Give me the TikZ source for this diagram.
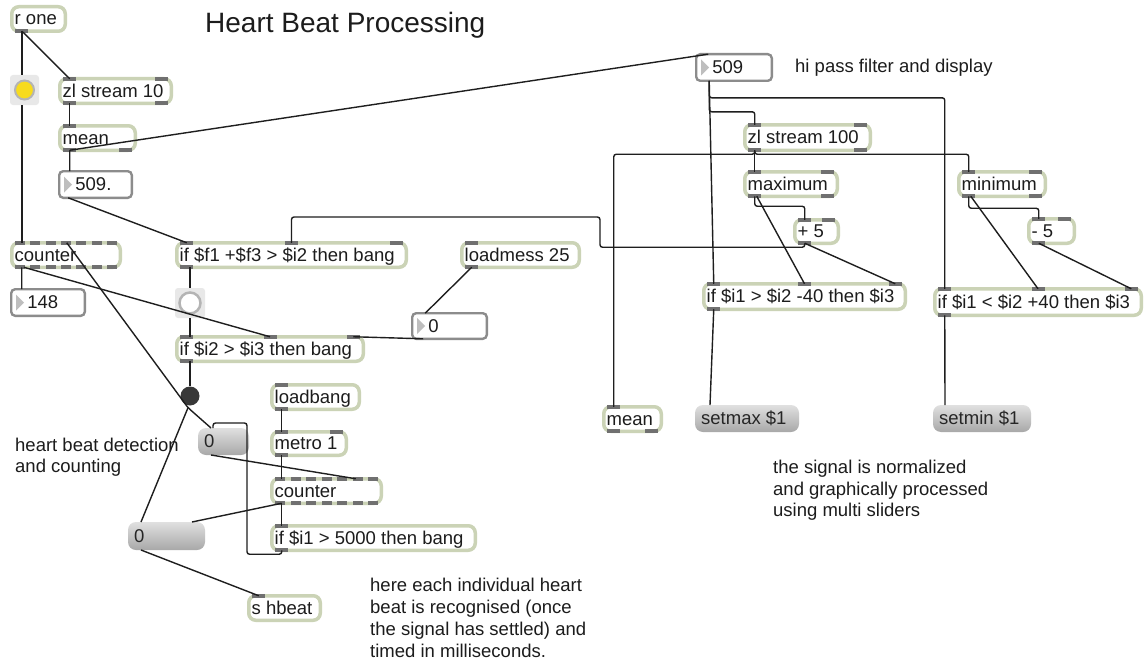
\documentclass[tikz,border=0pt]{standalone}
\usepackage{fontspec}
\setmainfont{Liberation Sans}
\usetikzlibrary{calc}
\definecolor{objb}{RGB}{203,211,182}
\definecolor{portc}{RGB}{112,112,112}
\definecolor{numb}{RGB}{140,140,140}
\definecolor{wirec}{RGB}{30,30,30}
\definecolor{txtc}{RGB}{28,28,28}
\definecolor{btnbg}{RGB}{232,232,232}
\definecolor{yel}{RGB}{247,219,30}
\definecolor{ringc}{RGB}{180,180,180}
\definecolor{msgtop}{RGB}{224,224,224}
\definecolor{msgbot}{RGB}{168,168,168}
\definecolor{tric}{RGB}{190,190,190}
\definecolor{blk}{RGB}{56,56,56}
\tikzset{
 objbox/.style={draw=objb, line width=3.5pt, fill=white, rounded corners=7pt, inner sep=0pt, outer sep=0pt},
 numbox/.style={draw=numb, line width=2.4pt, fill=white, rounded corners=4pt, inner sep=0pt, outer sep=0pt},
 msgbox/.style={top color=msgtop, bottom color=msgbot, rounded corners=8pt, inner sep=0pt, outer sep=0pt, draw=none},
 btnsq/.style={fill=btnbg, rounded corners=3pt, inner sep=0pt, outer sep=0pt, draw=none},
 txt/.style={font=\fontsize{18.5}{21.5}\selectfont, text=txtc, inner sep=0pt},
 cmt/.style={txt, anchor=base west},
 titletxt/.style={font=\fontsize{28}{32}\selectfont, text=txtc, inner sep=0pt, anchor=base west},
 port/.style={fill=portc},
 wire/.style={draw=wirec, line width=1.4pt, rounded corners=2.5pt},
}
% x, ytop, w, n, markwidth
\newcommand\portrow[5]{%
 \ifnum#4>0
  \foreach \k in {1,...,#4}{%
   \ifnum#4=1 \pgfmathsetmacro\mypx{#1+5}\else\pgfmathsetmacro\mypx{#1+5+(\k-1)*(#3-10-#5)/(#4-1)}\fi
   \fill[port] (\mypx,#2) rectangle ++(#5,4);}
 \fi}
% name,x,y,w,h,nin,nout,markwidth,text
\newcommand\mobj[9]{%
 \pgfmathsetmacro\myw{#4-3.5}\pgfmathsetmacro\myh{#5-3.5}%
 \node[objbox, minimum width=\myw pt, minimum height=\myh pt, anchor=north west] (#1) at (#2+1.75,#3+1.75) {};
 \node[txt, anchor=base west] (#1-t) at ([xshift=2.75pt,yshift=-6pt]#1.west) {#9};
 \portrow{#2}{#3-0.3}{#4}{#6}{#8}
 \portrow{#2}{#3+#5-3.7}{#4}{#7}{#8}
}
% name,x,y,w,h,text
\newcommand\mnum[6]{%
 \pgfmathsetmacro\myw{#4-2.4}\pgfmathsetmacro\myh{#5-2.4}%
 \node[numbox, minimum width=\myw pt, minimum height=\myh pt, anchor=north west] (#1) at (#2+1.2,#3+1.2) {};
 \fill[tric] (#2+6,#3+#5/2-8) -- (#2+14,#3+#5/2) -- (#2+6,#3+#5/2+8) -- cycle;
 \node[txt, anchor=base west] (#1-t) at ([xshift=16pt,yshift=-6pt]#1.west) {#6};
}
\newcommand\mmsg[6]{%
 \node[msgbox, minimum width=#4pt, minimum height=#5pt, anchor=north west] (#1) at (#2,#3) {};
 \node[txt, anchor=base west, text=black!85] (#1-t) at ([xshift=6pt,yshift=-6pt]#1.west) {#6};
}
\begin{document}
\begin{tikzpicture}[x=1pt,y=-1pt]
\useasboundingbox (0,0) rectangle (1146,661);
\fill[white] (0,0) rectangle (1146,661);

% ---- comments
\node[titletxt] (title) at (205,33) {Heart Beat Processing};
\node[cmt] (hp) at (795,73) {hi pass filter and display};
\node[cmt] (hb1) at (15,451) {heart beat detection};
\node[cmt] (hb2) at (15,472) {and counting};
\node[cmt] (he1) at (370,591) {here each individual heart};
\node[cmt] (he2) at (370,613) {beat is recognised (once};
\node[cmt] (he3) at (370,635) {the signal has settled) and};
\node[cmt] (he4) at (370,657) {timed in milliseconds.};
\node[cmt] (sn1) at (773,473) {the signal is normalized};
\node[cmt] (sn2) at (773,495) {and graphically processed};
\node[cmt] (sn3) at (773,516) {using multi sliders};

% ---- objects
\mobj{rone}{10}{5}{57}{28}{0}{1}{13}{r one}
\mobj{zl10}{58}{77}{115}{28}{2}{2}{13}{zl stream 10}
\mobj{mean1}{58}{124}{79}{28}{1}{2}{13}{mean}
\mobj{counter1}{10}{241}{112}{28}{7}{7}{10}{counter}
\mobj{iff}{175}{241}{233}{28}{3}{1}{13}{if \$f1 +\$f3 > \$i2 then bang}
\mobj{ifi2}{175}{335}{190}{28}{3}{1}{13}{if \$i2 > \$i3 then bang}
\mobj{loadmess}{460}{241}{121}{28}{1}{1}{13}{loadmess 25}
\mobj{loadbang}{270}{383}{91}{28}{1}{1}{13}{loadbang}
\mobj{metro}{270}{430}{78}{27}{2}{1}{13}{metro 1}
\mobj{counter2}{270}{477}{113}{28}{7}{7}{10}{counter}
\mobj{if5000}{270}{524}{207}{28}{1}{1}{13}{if \$i1 > 5000 then bang}
\mobj{shbeat}{247}{594}{75}{28}{1}{0}{13}{s hbeat}
\mobj{zl100}{743}{123}{129}{29}{2}{2}{13}{zl stream 100}
\mobj{maximum}{743}{170}{96}{28}{2}{2}{13}{maximum}
\mobj{plus5}{793}{218}{47}{27}{2}{1}{13}{+ 5}
\mobj{minimum}{957}{170}{90}{28}{2}{2}{13}{minimum}
\mobj{minus5}{1027}{217}{49}{28}{2}{1}{13}{- 5}
\mobj{ifgt}{702}{282}{205}{29}{3}{1}{13}{if \$i1 > \$i2 -40 then \$i3}
\mobj{iflt}{933}{287}{210}{30}{3}{1}{13}{if \$i1 < \$i2 +40 then \$i3}
\mobj{mean2}{602}{405}{61}{28}{1}{2}{13}{mean}

\mnum{num509a}{58}{170}{75}{29}{509.}
\mnum{num148}{10}{288}{76}{29}{148}
\mnum{num0}{411}{312}{77}{28}{0}
\mnum{num509b}{695}{53}{78}{29}{509}

\mmsg{msg0a}{198}{428}{51}{27}{0}
\mmsg{msg0b}{128}{522}{77}{28}{0}
\mmsg{setmax}{695}{405}{104}{27}{setmax \$1}
\mmsg{setmin}{933}{405}{98}{27}{setmin \$1}

% buttons
\node[btnsq, minimum width=29pt, minimum height=30pt, anchor=north west] (ybtn) at (10,75) {};
\node[circle, fill=yel, draw=ringc, line width=2pt, minimum size=19pt, inner sep=0pt] (ydot) at (ybtn.center) {};
\node[btnsq, minimum width=30pt, minimum height=30pt, anchor=north west] (openbtn) at (175,288) {};
\node[circle, fill=white, draw=ringc, line width=2.5pt, minimum size=21pt, inner sep=0pt] (odot) at (openbtn.center) {};
\node[circle, fill=blk, minimum size=19pt, inner sep=0pt] (blackbtn) at (190,396) {};

% ---- wires
\coordinate (ro) at ($(rone.south west)+(10.25,0)$);
\draw[wire] (ro) -- (ro |- ybtn.north);
\draw[wire] (ro |- ybtn.south) -- (ro |- counter1.north);
\draw[wire] (ro) -- ($(zl10.north west)+(10,0)$);
\draw[wire] ($(zl10.south west)+(10,0)$) -- ($(mean1.north west)+(10,0)$);
\draw[wire] ($(mean1.south west)+(10,0)$) -- ($(num509a.north west)+(10.5,0)$);
\draw[wire] ($(mean1.south west)+(10,0)$) -- ($(num509b.north west)+(12,0)$);
\draw[wire] ($(num509a.south west)+(9,0)$) -- ($(iff.north west)+(10,0)$);
\draw[wire] ($(counter1.south west)+(10,0)$) -- ($(num148.north west)+(10.5,0)$);
\draw[wire] ($(counter1.south west)+(12,0)$) -- (ifi2.north);
\draw[wire] (iff.south -| openbtn.north) -- (openbtn.north);
\draw[wire] (openbtn.south) -- (openbtn.south |- ifi2.north);
\draw[wire] (ifi2.south -| blackbtn.north) -- (blackbtn.north);
\coordinate (bbo) at ($(blackbtn.south)+(-2,2)$);
\draw[wire] ($(counter1.north west)+(55,0)$) -- (bbo) -- ($(msg0a.north west)+(13,0)$);
\draw[wire] (bbo) -- ($(msg0b.north west)+(13,0)$);
\draw[wire] ($(msg0b.south west)+(13,0)$) -- ($(shbeat.north west)+(10,0)$);
\draw[wire] ($(counter2.south west)+(10,0)$) -- ($(msg0b.north east)+(-13,0)$);
\draw[wire] ($(msg0a.south west)+(13,0)$) -- ($(counter2.north west)+(84,0)$);
\draw[wire] ($(loadbang.south west)+(10,0)$) -- ($(metro.north west)+(10,0)$);
\draw[wire] ($(metro.south west)+(10,0)$) -- ($(counter2.north west)+(10,0)$);
\draw[wire] ($(counter2.south west)+(10,0)$) -- ($(if5000.north west)+(10,0)$);
\draw[wire] ($(if5000.south west)+(10,0)$) -- ++(0,4) -| ($(msg0a.north east)+(-2,-5)$) -| ($(msg0a.north west)+(15,0)$);
\draw[wire] ($(loadmess.south west)+(10,0)$) -- ($(num0.north west)+(13,0)$);
\draw[wire] ($(num0.south west)+(11,0)$) -- ($(ifi2.north east)+(-10,0)$);
\coordinate (bend1) at (600,217);
\draw[wire] ($(plus5.south west)+(10,0)$) -- ++(0,4) -| (bend1) -| (iff.north);
\draw[wire] ($(plus5.south west)+(10,0)$) -- ($(ifgt.north east)+(-10,0)$);
\coordinate (nbo) at ($(num509b.south west)+(13,0)$);
\draw[wire] (nbo) -- ($(ifgt.north west)+(10,0)$);
\draw[wire] (nbo) -- ++(0,17) -| ($(iflt.north west)+(10,0)$);
\draw[wire] (nbo) -- ++(0,31) -| ($(zl100.north west)+(10,0)$);
\draw[wire] ($(zl100.south west)+(10,0)$) -- ($(maximum.north west)+(10,0)$);
\draw[wire] ($(zl100.south west)+(10,0)$) -- ++(0,4) -| ($(mean2.north west)+(10,0)$);
\draw[wire] ($(zl100.south west)+(10,0)$) -- ++(0,4) -| ($(minimum.north west)+(10,0)$);
\draw[wire] ($(maximum.south west)+(10,0)$) -- ++(0,10) -| ($(plus5.north west)+(10,0)$);
\draw[wire] ($(maximum.south west)+(12,0)$) -- (ifgt.north);
\draw[wire] ($(minimum.south west)+(10,0)$) -- ++(0,12) -| ($(minus5.north west)+(10,0)$);
\draw[wire] ($(minimum.south west)+(12,0)$) -- (iflt.north);
\draw[wire] ($(minus5.south west)+(10,0)$) -- ($(iflt.north east)+(-10,0)$);
\draw[wire] ($(ifgt.south west)+(10,0)$) -- ($(setmax.north west)+(15,0)$);
\draw[wire] ($(iflt.south west)+(10,0)$) -- ($(setmin.north west)+(12,0)$);
\end{tikzpicture}
\end{document}
